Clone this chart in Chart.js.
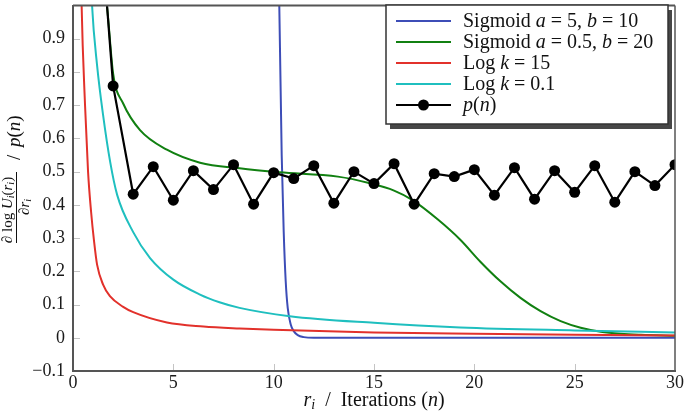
<!DOCTYPE html>
<html>
<head>
<meta charset="utf-8">
<script src="https://cdn.jsdelivr.net/npm/chart.js@4.4.0/dist/chart.umd.min.js"></script>
<style>
  html, body { margin: 0; padding: 0; background: #fff; }
  canvas { display: block; }
</style>
</head>
<body>
<canvas id="chart" width="685" height="411"></canvas>
<script>
'use strict';

// values
const sigA_x = [9.9, 10.1, 10.2, 10.28, 10.4, 10.5, 10.6, 10.7, 10.85, 11.0, 11.2, 11.5, 12, 15, 20, 25, 30];
const sigA_y = [5.0, 2.4, 1.5, 1.0, 0.55, 0.32, 0.17, 0.09, 0.04, 0.02, 0.008, 0.002, 0, 0, 0, 0, 0];

const sigB_x = [1.3, 1.5, 1.69, 2.0, 2.5, 3.34, 4.68, 6.33, 8.3, 10.3, 13.2, 14.8, 16, 16.9, 18.2, 19.3, 20.3, 21.3, 22.3, 23.3, 24.3, 25.3, 26.3, 27.3, 28.3, 30];
const sigB_y = [1.27, 1.08, 1.0, 0.795, 0.705, 0.625, 0.566, 0.527, 0.51, 0.498, 0.485, 0.465, 0.443, 0.415, 0.355, 0.295, 0.229, 0.17, 0.12, 0.08, 0.05, 0.03, 0.018, 0.012, 0.009, 0.006];

const log15_x = [0.3, 0.43, 0.6, 0.75, 0.9, 1.05, 1.2, 1.5, 1.84, 2.5, 3.0, 4.68, 6.5, 8.3, 10, 15, 20, 25, 30];
const log15_y = [1.5, 1.0, 0.7, 0.5, 0.38, 0.29, 0.22, 0.16, 0.125, 0.093, 0.077, 0.046, 0.034, 0.028, 0.024, 0.016, 0.012, 0.009, 0.007];

const log01_x = [0.7, 0.95, 1.2, 1.5, 1.85, 2.2, 3.0, 3.84, 5, 6.33, 7.3, 8.3, 10.8, 15, 19.3, 25, 30];
const log01_y = [1.4, 1.0, 0.82, 0.67, 0.53, 0.43, 0.318, 0.24, 0.175, 0.13, 0.107, 0.09, 0.065, 0.045, 0.031, 0.022, 0.016];

const iterations = [1, 2, 3, 4, 5, 6, 7, 8, 9, 10, 11, 12, 13, 14, 15, 16, 17, 18, 19, 20, 21, 22, 23, 24, 25, 26, 27, 28, 29, 30];
const pValues = [1.55, 0.758, 0.432, 0.515, 0.414, 0.503, 0.446, 0.521, 0.402, 0.497, 0.479, 0.518, 0.405, 0.5, 0.464,
                 0.524, 0.402, 0.494, 0.485, 0.506, 0.429, 0.512, 0.417, 0.503, 0.438, 0.518, 0.408, 0.5, 0.458, 0.521];

const seriesLabels = ['Sigmoid $a$ = 5, $b$ = 10', 'Sigmoid $a$ = 0.5, $b$ = 20', 'Log $k$ = 15', 'Log $k$ = 0.1', '$p$($n$)'];

const xTicks = [0, 5, 10, 15, 20, 25, 30];
const xTickLabels = ['0', '5', '10', '15', '20', '25', '30'];
const yTicks = [-0.1, 0, 0.1, 0.2, 0.3, 0.4, 0.5, 0.6, 0.7, 0.8, 0.9];
const yTickLabels = ['\u22120.1', '0', '0.1', '0.2', '0.3', '0.4', '0.5', '0.6', '0.7', '0.8', '0.9'];

const SERIF = "'Liberation Serif', 'DejaVu Serif', serif";
const AXIS = '#555';

const pts = (xs, ys) => xs.map((x, i) => ({ x: x, y: ys[i] }));

// text made of plain / italic pieces, "$...$" marks the italic parts
function mathRuns(str, size) {
  return str.split('$').map((t, i) => ({ t: t, it: i % 2 === 1, size: size, dy: 0 }));
}

function runFont(r) {
  return (r.it ? 'italic ' : '') + r.size + 'px ' + SERIF;
}

function runsWidth(ctx, runs) {
  let w = 0;
  runs.forEach((r) => {
    ctx.font = runFont(r);
    w += ctx.measureText(r.t).width;
  });
  return w;
}

function drawRuns(ctx, runs, x, y) {
  runs.forEach((r) => {
    if (!r.t) return;
    ctx.font = runFont(r);
    ctx.fillText(r.t, x, y + r.dy);
    x += ctx.measureText(r.t).width;
  });
}

const innerTicks = {
  id: 'innerTicks',
  beforeDatasetsDraw(chart) {
    const { ctx, chartArea: a, scales: { x, y } } = chart;
    ctx.save();
    ctx.strokeStyle = '#c4c4c4';
    ctx.lineWidth = 1;
    ctx.beginPath();
    xTicks.forEach((v) => {
      if (v === 0 || v === 30) return;
      const px = Math.round(x.getPixelForValue(v)) + 0.5;
      ctx.moveTo(px, a.bottom - 1);
      ctx.lineTo(px, a.bottom - 7);
    });
    yTicks.forEach((v) => {
      if (v < 0) return;
      const py = Math.round(y.getPixelForValue(v)) + 0.5;
      ctx.moveTo(a.left + 1, py);
      ctx.lineTo(a.left + 7, py);
    });
    ctx.stroke();
    ctx.restore();
  },
  afterDatasetsDraw(chart) {
    const { ctx, chartArea: a } = chart;
    ctx.save();
    ctx.strokeStyle = AXIS;
    ctx.lineWidth = 2;
    ctx.beginPath();
    ctx.moveTo(a.left, a.top);
    ctx.lineTo(a.right, a.top);
    ctx.stroke();
    ctx.lineWidth = 1.5;
    ctx.beginPath();
    ctx.moveTo(a.right, a.top);
    ctx.lineTo(a.right, a.bottom);
    ctx.stroke();
    ctx.restore();
  },
};

const boxLegend = {
  id: 'boxLegend',
  afterDraw(chart) {
    const ctx = chart.ctx;
    const bx = 386, by = 5, bw = 282, bh = 119;
    ctx.save();
    ctx.fillStyle = '#474747';
    ctx.fillRect(bx + 4, by + 5, bw, bh);
    ctx.fillStyle = '#fff';
    ctx.fillRect(bx, by, bw, bh);
    ctx.strokeStyle = '#333';
    ctx.lineWidth = 1.5;
    ctx.strokeRect(bx, by, bw, bh);

    chart.data.datasets.forEach((ds, i) => {
      const ry = 21 + i * 21;
      ctx.strokeStyle = ds.borderColor;
      ctx.lineWidth = ds.borderWidth;
      ctx.beginPath();
      ctx.moveTo(396, ry);
      ctx.lineTo(451, ry);
      ctx.stroke();
      if (ds.pointRadius) {
        ctx.fillStyle = ds.pointBackgroundColor;
        ctx.beginPath();
        ctx.arc(423.5, ry, ds.pointRadius, 0, Math.PI * 2);
        ctx.fill();
      }
      ctx.fillStyle = '#111';
      ctx.textBaseline = 'alphabetic';
      drawRuns(ctx, mathRuns(ds.label, 20), 463, ry + 6);
    });
    ctx.restore();
  },
};

const axisTitles = {
  id: 'axisTitles',
  afterDraw(chart) {
    const { ctx, chartArea: a } = chart;
    ctx.save();
    ctx.fillStyle = '#111';
    ctx.textBaseline = 'alphabetic';

    // x title: r_i / Iterations (n)
    const xr = [
      { t: 'r', it: true, size: 20, dy: 0 },
      { t: 'i', it: true, size: 14, dy: 3 },
      { t: '  /  Iterations (', it: false, size: 20, dy: 0 },
      { t: 'n', it: true, size: 20, dy: 0 },
      { t: ')', it: false, size: 20, dy: 0 },
    ];
    const xw = runsWidth(ctx, xr);
    drawRuns(ctx, xr, (a.left + a.right) / 2 - xw / 2, 406);

    // y title, rotated: fraction / p(n)
    ctx.rotate(-Math.PI / 2);
    // in the rotated frame: u = -screenY, v = screenX
    const num = [
      { t: '\u2202 log ', it: false, size: 15, dy: 0 },
      { t: 'U', it: true, size: 15, dy: 0 },
      { t: 'i', it: true, size: 10, dy: 2 },
      { t: '(', it: false, size: 15, dy: 0 },
      { t: 'r', it: true, size: 15, dy: 0 },
      { t: 'i', it: true, size: 10, dy: 2 },
      { t: ')', it: false, size: 15, dy: 0 },
    ];
    const nw = runsWidth(ctx, num);
    drawRuns(ctx, num, -210 - nw / 2, 12);

    const den = [
      { t: '\u2202', it: false, size: 15, dy: 0 },
      { t: 'r', it: true, size: 15, dy: 0 },
      { t: 'i', it: true, size: 10, dy: 2 },
    ];
    const dw = runsWidth(ctx, den);
    drawRuns(ctx, den, -207 - dw / 2, 29);

    ctx.strokeStyle = '#111';
    ctx.lineWidth = 1;
    ctx.beginPath();
    ctx.moveTo(-243, 16.5);
    ctx.lineTo(-172, 16.5);
    ctx.stroke();

    drawRuns(ctx, [{ t: '/', it: false, size: 19, dy: 0 }], -160, 20);
    const pr = [
      { t: 'p', it: true, size: 19, dy: 0 },
      { t: '(', it: false, size: 19, dy: 0 },
      { t: 'n', it: true, size: 19, dy: 0 },
      { t: ')', it: false, size: 19, dy: 0 },
    ];
    drawRuns(ctx, pr, -147, 20);
    ctx.restore();
  },
};

const lineStyle = (color, order) => ({
  borderColor: color,
  backgroundColor: color,
  borderWidth: 2,
  pointRadius: 0,
  fill: false,
  cubicInterpolationMode: 'monotone',
  order: order,
});

new Chart(document.getElementById('chart'), {
  type: 'line',
  data: {
    datasets: [
      Object.assign({ label: seriesLabels[0], data: pts(sigA_x, sigA_y) }, lineStyle('#3d4db7', 5)),
      Object.assign({ label: seriesLabels[1], data: pts(sigB_x, sigB_y) }, lineStyle('#118011', 4)),
      Object.assign({ label: seriesLabels[2], data: pts(log15_x, log15_y) }, lineStyle('#e2312b', 3)),
      Object.assign({ label: seriesLabels[3], data: pts(log01_x, log01_y) }, lineStyle('#1fbfbf', 2)),
      {
        label: seriesLabels[4],
        data: pts(iterations, pValues),
        borderColor: '#000',
        backgroundColor: '#000',
        pointBackgroundColor: '#000',
        pointBorderWidth: 0,
        borderWidth: 2.2,
        pointRadius: 5.5,
        tension: 0,
        fill: false,
        order: 1,
      },
    ],
  },
  options: {
    responsive: false,
    animation: false,
    devicePixelRatio: 1,
    layout: { padding: { top: 1, right: 10, bottom: 0, left: 0 } },
    plugins: {
      legend: { display: false },
      title: { display: false },
      tooltip: { enabled: false },
    },
    scales: {
      x: {
        type: 'linear',
        min: 0,
        max: 30,
        afterBuildTicks: (scale) => { scale.ticks = xTicks.map((v) => ({ value: v })); },
        afterFit: (scale) => { scale.height = 40; scale.paddingLeft = 0; scale.paddingRight = 0; },
        ticks: {
          callback: (value, index) => xTickLabels[index],
          font: { family: SERIF, size: 18 },
          color: '#1a1a1a',
          padding: 1,
          maxRotation: 0,
        },
        grid: { display: false, drawTicks: false },
        border: { display: true, color: AXIS, width: 2 },
      },
      y: {
        type: 'linear',
        min: -0.1,
        max: 1.0,
        afterBuildTicks: (scale) => { scale.ticks = yTicks.map((v) => ({ value: v })); },
        afterFit: (scale) => { scale.width = 73; scale.paddingTop = 0; scale.paddingBottom = 0; },
        ticks: {
          callback: (value, index) => yTickLabels[index],
          font: { family: SERIF, size: 18 },
          color: '#1a1a1a',
          padding: 8,
        },
        grid: { display: false, drawTicks: false },
        border: { display: true, color: AXIS, width: 2 },
      },
    },
  },
  plugins: [innerTicks, boxLegend, axisTitles],
});
</script>
</body>
</html>
